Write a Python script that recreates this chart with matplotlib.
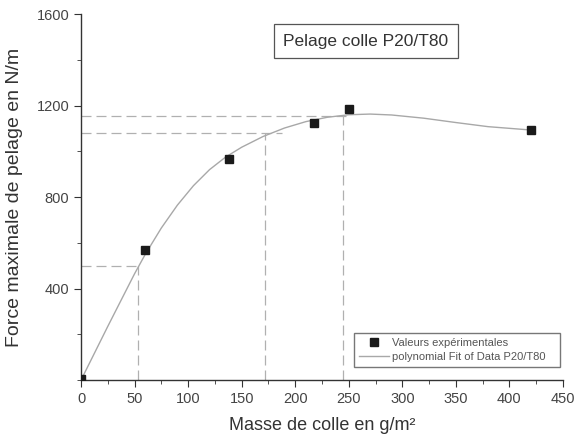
import matplotlib
matplotlib.use("Agg")
import matplotlib.pyplot as plt
from matplotlib.ticker import MultipleLocator

plt.rcParams['font.family'] = ['Liberation Sans', 'DejaVu Sans']

# experimental points
masse = [0, 60, 138, 218, 250, 420]
force = [5, 568, 968, 1122, 1183, 1092]

# polynomial fit curve
fit_x = [0, 25, 50, 60, 75, 90, 105, 120, 135, 150, 170, 190, 210, 230, 250,
         270, 290, 320, 350, 380, 418]
fit_y = [0, 235, 465, 550, 665, 765, 850, 920, 975, 1018, 1065, 1102, 1130, 1149, 1160,
         1163, 1159, 1145, 1126, 1108, 1094]

# guide lines (x on the fit, force on the fit, horizontal extent)
guide_x = [53, 172, 245]
guide_y = [497, 1080, 1153]
guide_xend = [53, 188, 250]

fig = plt.figure(figsize=(5.87, 4.40), dpi=100)
ax = fig.add_axes([0.138, 0.136, 0.821, 0.832])

for gx, gy, ge in zip(guide_x, guide_y, guide_xend):
    ax.plot([0, ge], [gy, gy], color='#b0b0b0', lw=0.9, dashes=(8, 4))
    ax.plot([gx, gx], [0, gy], color='#b0b0b0', lw=0.9, dashes=(8, 4))

ax.plot(fit_x, fit_y, color='#a8a8a8', lw=1.0, label='polynomial Fit of Data P20/T80')
ax.plot(masse, force, 's', color='#1a1a1a', ms=5.5, ls='none', label='Valeurs expérimentales', zorder=5)

ax.set_xlim(0, 450)
ax.set_ylim(0, 1600)
ax.xaxis.set_major_locator(MultipleLocator(50))
ax.xaxis.set_minor_locator(MultipleLocator(25))
ax.set_yticks([400, 800, 1200, 1600])
ax.yaxis.set_minor_locator(MultipleLocator(200))
ax.spines['top'].set_visible(False)
ax.spines['right'].set_visible(False)
for s in ['left', 'bottom']:
    ax.spines[s].set_color('#333333')
    ax.spines[s].set_linewidth(1.0)
ax.tick_params(which='major', direction='out', length=5, color='#333333', labelsize=10.5, labelcolor='#444444')
ax.tick_params(which='minor', direction='out', length=3, color='#333333')
ax.set_xlabel('Masse de colle en g/m²', fontsize=13, color='#333333', labelpad=8)
ax.set_ylabel('Force maximale de pelage en N/m', fontsize=14, color='#333333', labelpad=10)

ax.text(266, 1482, 'Pelage colle P20/T80', fontsize=12.5, color='#333333', ha='center', va='center',
        bbox=dict(boxstyle='square,pad=0.55', fc='white', ec='#555555', lw=0.9))

h, l = ax.get_legend_handles_labels()
leg = ax.legend(h[::-1], l[::-1], loc='lower left', bbox_to_anchor=(0.566, 0.0355, 0.428, 0.1),
                mode='expand', borderaxespad=0,
                fontsize=8, frameon=True, fancybox=False, edgecolor='#555555',
                borderpad=0.45, labelspacing=0.4, handlelength=2.7, handletextpad=0.3)
for t in leg.get_texts():
    t.set_color('#555555')

fig.savefig('out.png', dpi=100)
